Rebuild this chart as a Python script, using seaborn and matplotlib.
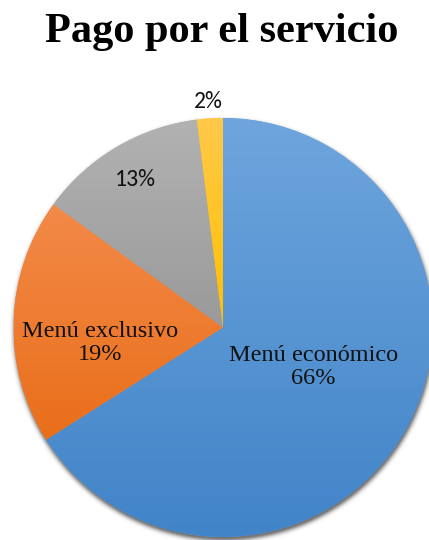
import numpy as np
import matplotlib
matplotlib.use("Agg")
import matplotlib.pyplot as plt
import matplotlib.colors as mcolors
from matplotlib import font_manager as fm
import seaborn as sns

# Data
categories = ["Menú económico", "Menú exclusivo", "", ""]
shares = [66, 19, 13, 2]
pct_labels = ["66%", "19%", "13%", "2%"]

# Slice gradients (top colour, bottom colour)
top_colors = ["#6ea5dd", "#f38a48", "#b2b2b2", "#ffc94a"]
bottom_colors = ["#4184c8", "#e96e1a", "#9a9a9a", "#ffbf00"]

sns.set_theme(style="white")
plt.rcParams["font.family"] = ["Liberation Serif", "DejaVu Serif"]


def pick_family(*names):
    for n in names:
        try:
            fm.findfont(fm.FontProperties(family=n), fallback_to_default=False)
            return n
        except Exception:
            continue
    return "DejaVu Sans"


serif_name = pick_family("Liberation Serif", "DejaVu Serif")
sans_name = pick_family("Carlito", "Lato", "Liberation Sans")

W, H = 429, 540
fig = plt.figure(figsize=(W / 100, H / 100), dpi=100)
ax = fig.add_axes([0, 0, 1, 1])

# pie centre and radius in pixels
cx, cy, R = 223.0, 327.5, 209.5
xlim = (-cx / R, (W - cx) / R)
ylim = (-(H - cy) / R, cy / R)

# soft drop shadow around the pie
gx = np.linspace(xlim[0], xlim[1], W * 2)
gy = np.linspace(ylim[1], ylim[0], H * 2)
XX, YY = np.meshgrid(gx, gy)
d = np.hypot(XX - 0.004, YY + 0.014)
alpha = np.where(d < 0.99, 0.55, 0.55 * np.exp(-((d - 0.99) / 0.018) ** 2))
shadow = np.zeros((len(gy), len(gx), 4))
shadow[..., 3] = alpha
ax.imshow(shadow, extent=(xlim[0], xlim[1], ylim[0], ylim[1]),
          origin="upper", zorder=0, interpolation="bilinear")

wedges, _ = ax.pie(shares, startangle=90, counterclock=False, radius=1,
                   colors=top_colors, wedgeprops=dict(linewidth=0),
                   frame=False)

# vertical gradient fill clipped to each wedge
for w, c0, c1 in zip(wedges, top_colors, bottom_colors):
    w.set_zorder(1)
    ext = w.get_path().get_extents()
    a = np.array(mcolors.to_rgb(c0))
    b = np.array(mcolors.to_rgb(c1))
    t = np.linspace(0, 1, 256)[:, None]
    grad = (a * (1 - t) + b * t)[:, None, :]
    im = ax.imshow(grad, extent=(ext.x0, ext.x1, ext.y0, ext.y1),
                   origin="upper", aspect="auto", zorder=2,
                   interpolation="bilinear")
    im.set_clip_path(w)

ax.set_xlim(*xlim)
ax.set_ylim(*ylim)
ax.set_aspect("auto")
ax.axis("off")

# data labels
label_dist = [0.47, 0.59, 0.82, 1.08]
label_turn = [5.0, 9.0, 0.0, 0.2]
serif_fp = fm.FontProperties(family=serif_name, size=17.5)
sans_fp = fm.FontProperties(family=sans_name, size=17)
for w, name, pct, r, turn in zip(wedges, categories, pct_labels,
                                 label_dist, label_turn):
    mid = np.deg2rad((w.theta1 + w.theta2) / 2 + turn)
    x, y = r * np.cos(mid), r * np.sin(mid)
    if name:
        ax.text(x, y, f"{name}\n{pct}", ha="center", va="center",
                color="#111111", linespacing=1.12, zorder=5,
                fontproperties=serif_fp)
    else:
        ax.text(x, y, pct, ha="center", va="center", color="#111111",
                zorder=5, fontproperties=sans_fp)

title_fp = fm.FontProperties(family=serif_name, weight="bold", size=30.5)
fig.text(0.517, 1 - 42 / H, "Pago por el servicio", ha="center",
         va="baseline", color="black", fontproperties=title_fp)

fig.savefig("out.png", dpi=100)
